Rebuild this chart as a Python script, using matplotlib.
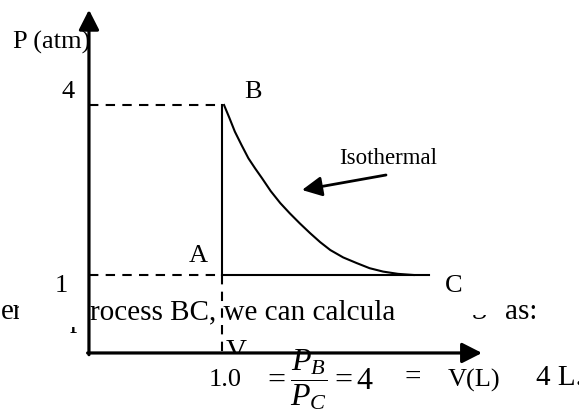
import matplotlib
matplotlib.use("Agg")
import matplotlib.pyplot as plt
from matplotlib.patches import Rectangle

plt.rcParams['font.family'] = ['Liberation Serif', 'DejaVu Serif']
plt.rcParams['mathtext.fontset'] = 'custom'
plt.rcParams['mathtext.rm'] = 'Liberation Serif'
plt.rcParams['mathtext.it'] = 'Liberation Serif:italic'

# states of the gas
V_A, P_A = 1.0, 1.0
V_B, P_B = 1.0, 4.0
V_C, P_C = 4.0, 1.0

# isothermal B -> C
iso_V = [1.03, 1.11, 1.19, 1.29, 1.39, 1.49, 1.59, 1.72, 1.86, 2.00, 2.15, 2.30,
         2.45, 2.60, 2.79, 2.99, 3.18, 3.38, 3.60, 3.83]
iso_P = [4.00, 3.77, 3.53, 3.29, 3.06, 2.88, 2.71, 2.48, 2.27, 2.09, 1.91, 1.74,
         1.58, 1.44, 1.31, 1.21, 1.12, 1.06, 1.02, 1.00]

W, H = 579, 417
fig = plt.figure(figsize=(W / 100, H / 100), dpi=100)
ax = fig.add_axes([0, 0, 1, 1])
ax.set_xlim(-2.279, 6.273)
ax.set_ylim(-1.506, 5.853)
ax.axis('off')

def px(x, y):
    # pixel position -> axes fraction
    return (x / W, 1 - y / H)

def clipped(t, x, y, w, h):
    # show only the pixel box (x, y) .. (x+w, y+h) of a text
    t.set_clip_path(Rectangle(px(x, y + h), w / W, h / H, transform=ax.transAxes))
    t.set_clip_on(True)

# axes of the diagram
V0, P0 = -0.965, -0.376
head = '-|>,head_length=0.55,head_width=0.28'
ax.annotate('', xy=(V0, 5.68), xytext=(V0, P0 - 0.03),
            arrowprops=dict(arrowstyle=head, lw=2.3, color='k',
                            shrinkA=0, shrinkB=0, mutation_scale=22))
ax.annotate('', xy=(4.84, P0), xytext=(V0 - 0.02, P0),
            arrowprops=dict(arrowstyle=head, lw=2.3, color='k',
                            shrinkA=0, shrinkB=0, mutation_scale=22))

# dashed guides
dash = dict(color='k', lw=1.5, ls=(0, (4.5, 3.5)))
ax.plot([V0, V_B], [P_B, P_B], **dash)
ax.plot([V0, V_A], [P_A, P_A], **dash)
ax.plot([V_A, V_A], [P_A, P0], **dash)

# process lines
ax.plot([V_A, V_B], [P_A, P_B], color='k', lw=1.5)
ax.plot([V_A, V_C + 0.06], [P_A, P_C], color='k', lw=1.5)
ax.plot(iso_V, iso_P, color='k', lw=1.5)

# arrow to the curve
ax.annotate('', xy=px(302, 190), xytext=px(386, 175), xycoords='axes fraction',
            textcoords='axes fraction',
            arrowprops=dict(arrowstyle='-|>,head_length=0.6,head_width=0.3',
                            lw=2.0, color='k', shrinkA=0, shrinkB=0, mutation_scale=20))

fs = 19
ax.text(*px(13, 42), 'P (atm)', transform=ax.transAxes, fontsize=fs, va='center', ha='left')
ax.text(*px(68, 92), '4', transform=ax.transAxes, fontsize=fs, va='center', ha='center')
ax.text(*px(61, 286), '1', transform=ax.transAxes, fontsize=fs, va='center', ha='center')
ax.text(*px(253, 92), 'B', transform=ax.transAxes, fontsize=fs, va='center', ha='center')
ax.text(*px(198, 256), 'A', transform=ax.transAxes, fontsize=fs, va='center', ha='center')
ax.text(*px(454, 286), 'C', transform=ax.transAxes, fontsize=fs, va='center', ha='center')
ax.text(*px(388, 158), 'Isothermal', transform=ax.transAxes, fontsize=16.5,
        va='center', ha='center')

# fragments of the surrounding text
big = 21
ax.text(*px(90, 312), 'rocess BC, we can calcula', transform=ax.transAxes,
        fontsize=big, va='center', ha='left')
ax.text(*px(505, 312), 'as:', transform=ax.transAxes, fontsize=big, va='center', ha='left')
t = ax.text(*px(1, 312), 'er', transform=ax.transAxes, fontsize=big, va='center', ha='left')
clipped(t, 0, 295, 19, 40)
t = ax.text(*px(70, 320), 'p', transform=ax.transAxes, fontsize=big, va='center', ha='left')
clipped(t, 60, 327, 40, 10)
t = ax.text(*px(472, 306), 'g', transform=ax.transAxes, fontsize=big, va='center', ha='left')
clipped(t, 465, 315, 30, 9)
t = ax.text(*px(236, 352), 'V', transform=ax.transAxes, fontsize=big, va='center', ha='center')
clipped(t, 200, 338, 80, 14)

ax.text(*px(225, 380), '1.0', transform=ax.transAxes, fontsize=fs, va='center', ha='center')
ax.text(*px(263, 380), r'$=\dfrac{P_B}{P_C}=4$', transform=ax.transAxes, fontsize=23,
        va='center', ha='left')
ax.text(*px(413, 378), '=', transform=ax.transAxes, fontsize=big, va='center', ha='center')
ax.text(*px(474, 380), 'V(L)', transform=ax.transAxes, fontsize=fs, va='center', ha='center')
ax.text(*px(536, 378), '4 L.', transform=ax.transAxes, fontsize=big, va='center', ha='left')

fig.savefig('out.png', dpi=100)
